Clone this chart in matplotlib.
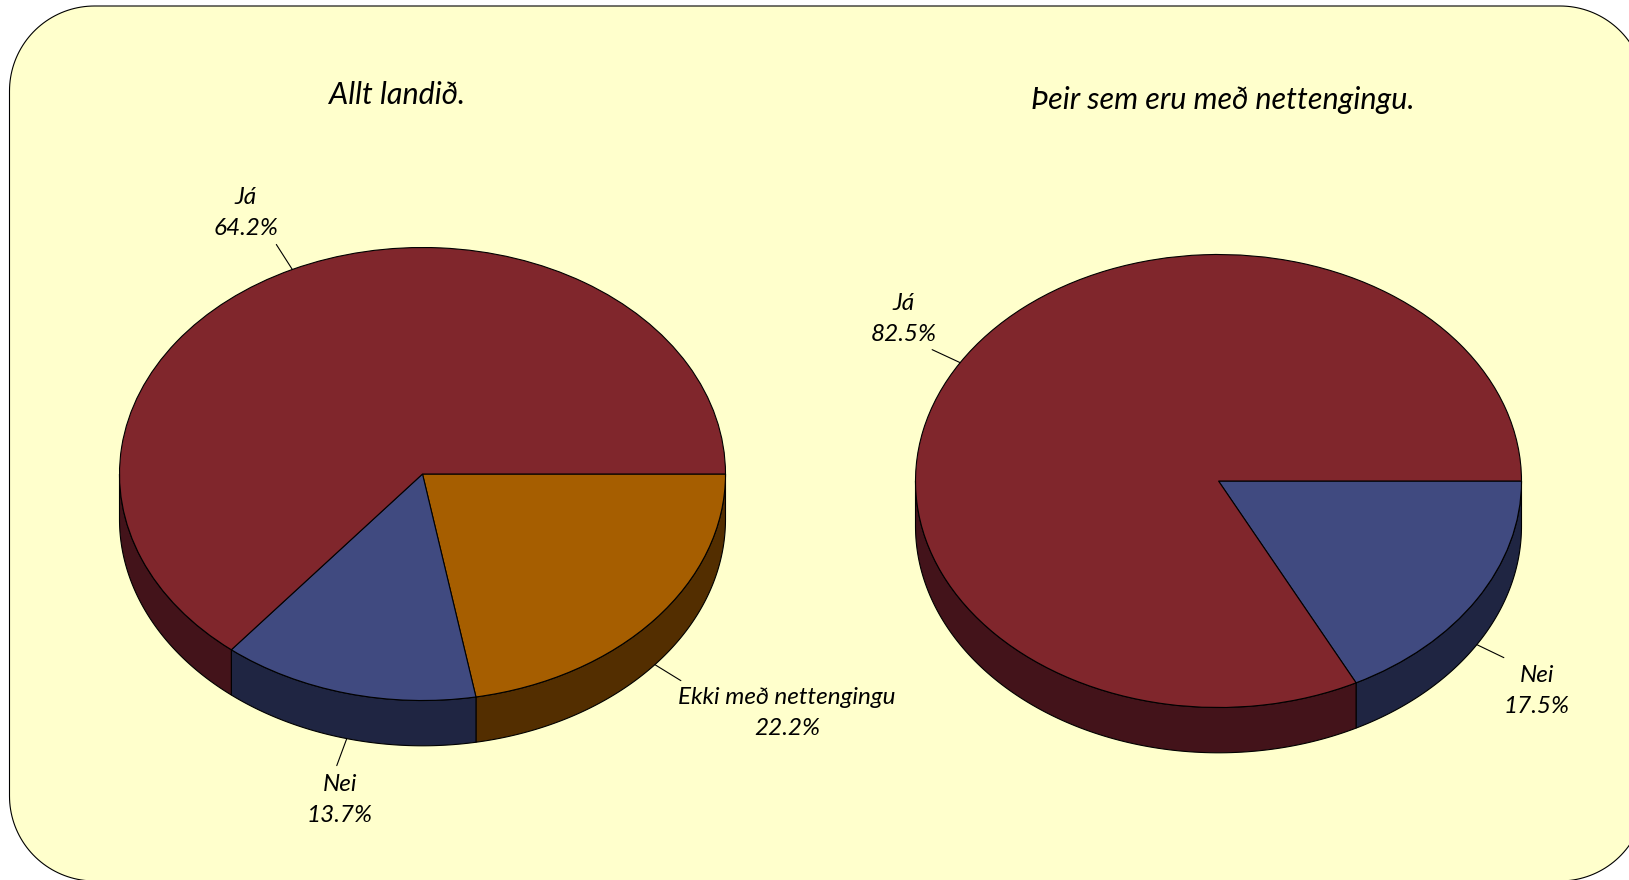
import numpy as np
import matplotlib
matplotlib.use("Agg")
import matplotlib.pyplot as plt
from matplotlib.patches import Polygon

left_title = "Allt landið."
left_labels = ["Ekki með nettengingu", "Nei", "Já"]
left_values = [22.2, 13.7, 64.2]
left_colors = ["#A65E00", "#404A80", "#80262C"]
left_sides = ["#532E00", "#1F2542", "#43131A"]

right_title = "Þeir sem eru með nettengingu."
right_labels = ["Nei", "Já"]
right_values = [17.5, 82.5]
right_colors = ["#404A80", "#80262C"]
right_sides = ["#1F2542", "#43131A"]

W, H = 1629, 880
plt.rcParams["font.family"] = ["Lato", "Liberation Sans"]
plt.rcParams["font.style"] = "italic"

fig = plt.figure(figsize=(W / 100, H / 100), dpi=100, facecolor="white")

bg = fig.add_axes([0, 0, 1, 1], zorder=0)
bg.set_xlim(0, W)
bg.set_ylim(H, 0)
bg.axis("off")


def rounded(x0, y0, x1, y1, r):
    pts = []
    for cx, cy, a0 in [(x1 - r, y0 + r, -90), (x1 - r, y1 - r, 0),
                       (x0 + r, y1 - r, 90), (x0 + r, y0 + r, 180)]:
        t = np.radians(np.linspace(a0, a0 + 90, 40))
        pts.append(np.c_[cx + r * np.cos(t), cy + r * np.sin(t)])
    return np.vstack(pts)


bg.add_patch(Polygon(rounded(9.5, 6, 1645, 881, 85), closed=True,
                     fc="#FFFFCC", ec="black", lw=0.8, clip_on=False))

DEPTH = 0.2


def pie3d(cx, cy, rx, ry, values, colors, sides, leaders):
    ax = fig.add_axes([(cx - rx) / W, 1 - (cy + ry) / H, 2 * rx / W, 2 * ry / H], zorder=1)
    wedges, _ = ax.pie(values, colors=colors, startangle=0, counterclock=False, radius=1,
                       wedgeprops=dict(edgecolor="black", linewidth=0.8, zorder=3))
    ax.set_aspect("auto")
    ax.set_xlim(-1, 1)
    ax.set_ylim(-1, 1)
    ax.axis("off")
    for w, side, off in zip(wedges, sides, leaders):
        a1, a2 = w.theta1, w.theta2
        lo, hi = max(a1, -180), min(a2, 0)
        if lo < hi:
            t = np.radians(np.linspace(lo, hi, 120))
            xs = np.r_[np.cos(t), np.cos(t[::-1])]
            ys = np.r_[np.sin(t), np.sin(t[::-1]) - DEPTH]
            ax.fill(xs, ys, fc=side, ec="black", lw=0.8, zorder=2, clip_on=False)
        mid = np.radians((a1 + a2) / 2)
        x, y = np.cos(mid), np.sin(mid)
        if y < 0:
            y -= DEPTH
        ax.annotate("", xy=(x, y), xytext=off, textcoords="offset pixels",
                    arrowprops=dict(arrowstyle="-", lw=0.8, color="black",
                                    shrinkA=0, shrinkB=0), annotation_clip=False)
    return ax


pie3d(422.5, 474, 303, 226.5, left_values, left_colors, left_sides,
      [(26, -16), (-10, -27), (-16, 25)])
pie3d(1218.5, 481, 303, 226.5, right_values, right_colors, right_sides,
      [(27, -13), (-28, 13)])


def label(x, y, s, size=17.5):
    fig.text(x / W, 1 - y / H, s, ha="center", va="center", fontsize=size,
             color="black", linespacing=1.56, multialignment="center", zorder=5)


label(397, 95, left_title, 22)
label(1223, 100, right_title, 22)
label(787, 713, f"{left_labels[0]}\n{left_values[0]:.1f}%")
label(340, 800, f"{left_labels[1]}\n{left_values[1]:.1f}%")
label(246, 213, f"{left_labels[2]}\n{left_values[2]:.1f}%")
label(1537, 691, f"{right_labels[0]}\n{right_values[0]:.1f}%")
label(904, 319, f"{right_labels[1]}\n{right_values[1]:.1f}%")

fig.savefig("out.png", dpi=100, facecolor="white")
